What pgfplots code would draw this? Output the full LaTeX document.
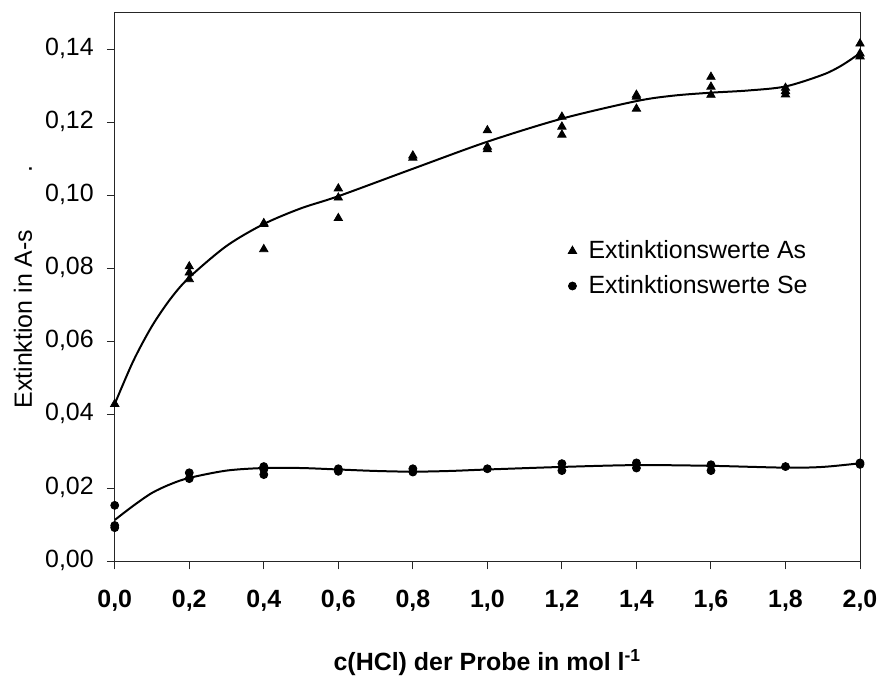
\documentclass[border=0pt]{standalone}
\usepackage{pgfplots}
\pgfplotsset{compat=1.18}
\usepackage{fontspec}
\setmainfont{Liberation Sans}
\usetikzlibrary{calc}

\begin{document}
\begin{tikzpicture}[font=\fontsize{12.5}{15}\selectfont]
\begin{axis}[
    scale only axis,
    width=373.5pt,
    height=275pt,
    xmin=0, xmax=2,
    ymin=0, ymax=0.15,
    xtick={0,0.2,...,2.01},
    ytick={0,0.02,...,0.141},
    axis line style={black!85, line width=0.5pt},
    tick style={black!85, line width=0.5pt},
    tick align=outside,
    major tick length=4pt,
    xtick pos=bottom,
    ytick pos=left,
    typeset ticklabels with strut,
    /pgf/number format/assume math mode=true,
    xticklabel style={font=\fontsize{12.5}{15}\selectfont\bfseries, yshift=-5pt,
        /pgf/number format/.cd, fixed, fixed zerofill, precision=1, use comma},
    yticklabel style={xshift=-3pt,
        /pgf/number format/.cd, fixed, fixed zerofill, precision=2, use comma},
    scaled y ticks=false,
    xlabel={\bfseries c(HCl) der Probe in mol l\textsuperscript{-1}},
    xlabel style={at={($(rel axis cs:0.5,0)+(0,-54.5pt)$)}, anchor=base},
    ylabel={Extinktion in A-s\hspace{2.3em}.},
    ylabel style={at={($(rel axis cs:0,0.5)+(-41.5pt,0)$)}, anchor=base},
    legend style={draw=none, fill=none, at={(rel axis cs:0.6,0.6)},
        anchor=north west, row sep=3pt,
        /tikz/every odd column/.append style={column sep=4pt}},
    legend cell align=left,
]
% fitted trend curves
\addplot[black, line width=1pt, smooth, forget plot] coordinates {
(0,0.0430) (0.05,0.0548) (0.1,0.0643) (0.15,0.0718) (0.2,0.0776)
(0.3,0.0862) (0.4,0.0922) (0.5,0.0965) (0.6,0.0998) (0.8,0.1073)
(1.0,0.1147) (1.2,0.1210) (1.4,0.1258) (1.5,0.1273) (1.6,0.1281)
(1.7,0.1287) (1.8,0.1298) (1.9,0.1330) (1.95,0.1355) (2.0,0.1389)
};
\addplot[black, line width=1pt, smooth, forget plot] coordinates {
(0,0.0113) (0.05,0.0152) (0.1,0.0187) (0.15,0.0211) (0.2,0.0228)
(0.3,0.0248) (0.4,0.0255) (0.5,0.0255) (0.6,0.0251) (0.7,0.0247)
(0.8,0.0245) (0.9,0.0247) (1.0,0.0251) (1.2,0.0258) (1.4,0.0263)
(1.6,0.0261) (1.8,0.0256) (1.9,0.0258) (2.0,0.0268)
};
% measured values
\addplot[only marks, mark=triangle*, mark size=2.4pt, black] coordinates {
(0,0.0430)
(0.2,0.0806) (0.2,0.0789) (0.2,0.0771)
(0.4,0.0924) (0.4,0.0922) (0.4,0.0853)
(0.6,0.1019) (0.6,0.0994) (0.6,0.0938)
(0.8,0.1109) (0.8,0.1103)
(1.0,0.1178) (1.0,0.1133) (1.0,0.1126)
(1.2,0.1215) (1.2,0.1188) (1.2,0.1166)
(1.4,0.1275) (1.4,0.1270) (1.4,0.1237)
(1.6,0.1324) (1.6,0.1297) (1.6,0.1275)
(1.8,0.1294) (1.8,0.1285) (1.8,0.1276)
(2.0,0.1415) (2.0,0.1388) (2.0,0.1380)
};
\addlegendentry{Extinktionswerte As}
\addplot[only marks, mark=*, mark size=2pt, black] coordinates {
(0,0.0153) (0,0.0098) (0,0.0092)
(0.2,0.0242) (0.2,0.0226)
(0.4,0.0259) (0.4,0.0251) (0.4,0.0237)
(0.6,0.0253) (0.6,0.0246)
(0.8,0.0253) (0.8,0.0244)
(1.0,0.0253)
(1.2,0.0267) (1.2,0.0248)
(1.4,0.0269) (1.4,0.0255)
(1.6,0.0264) (1.6,0.0248)
(1.8,0.0259)
(2.0,0.0269) (2.0,0.0265)
};
\addlegendentry{Extinktionswerte Se}
\end{axis}
\path ($(current axis.south west)+(-57.5pt,-56.1pt)$) rectangle ($(current axis.north east)+(10.7pt,6.3pt)$);
\end{tikzpicture}
\end{document}
